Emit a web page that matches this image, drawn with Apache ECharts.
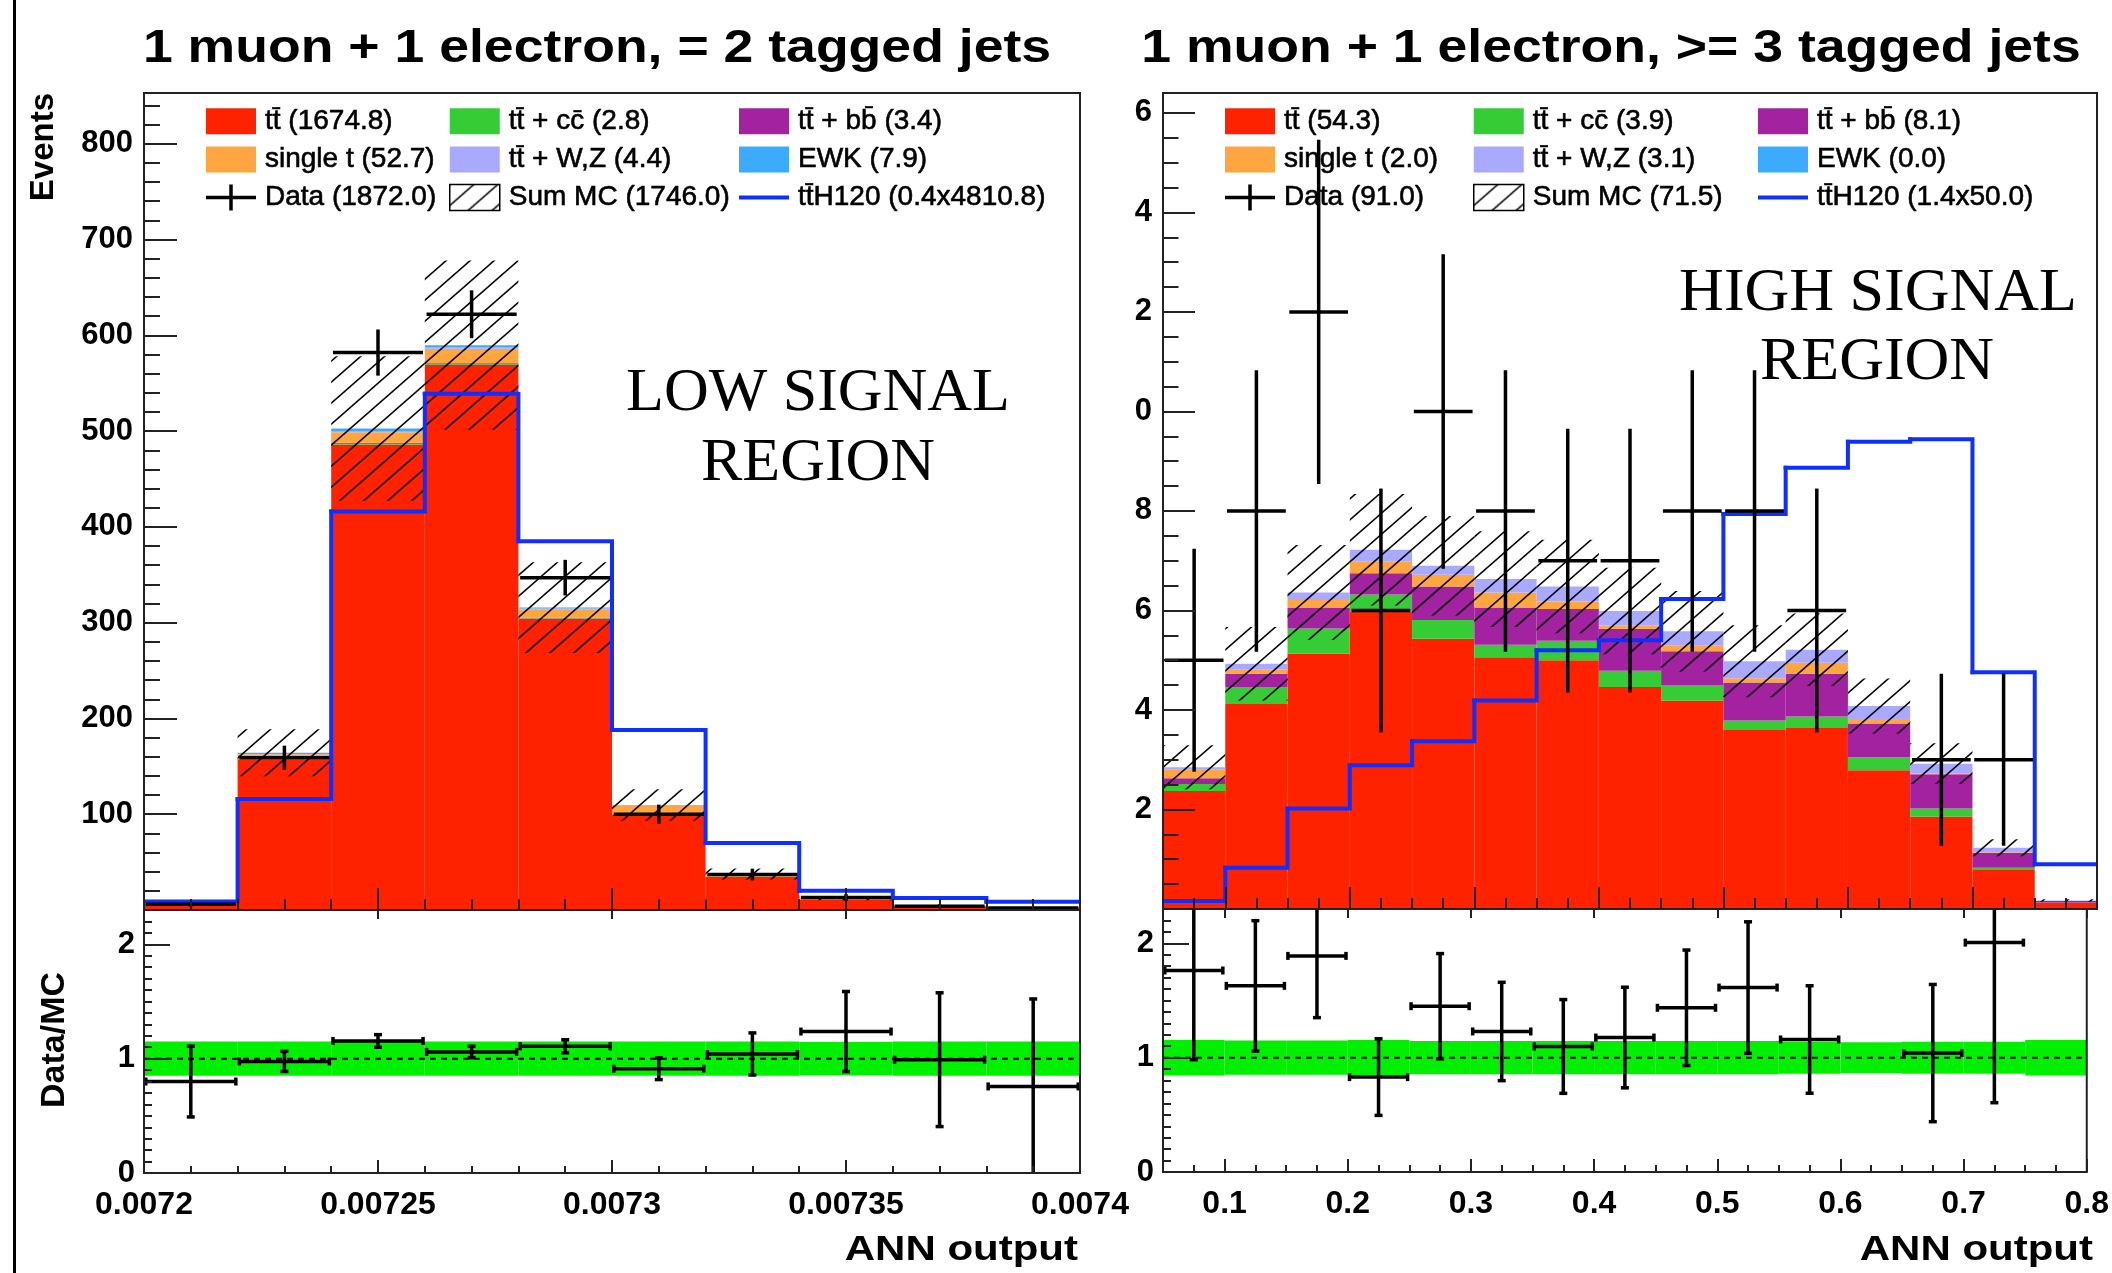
<!DOCTYPE html>
<html>
<head>
<meta charset="utf-8">
<script src="https://cdn.jsdelivr.net/npm/echarts@6/dist/echarts.min.js"></script>
<style>
html, body { margin: 0; padding: 0; background: #fff; }
#chart { width: 2112px; height: 1273px; }
</style>
</head>
<body>
<div id="chart"></div>
<script>
var FONT = '"Liberation Sans", Arial, Helvetica, sans-serif';
var SERIF = '"Liberation Serif", "Times New Roman", serif';

// stack order, bottom first
var compNames = ['tt\u0304', 'tt\u0304 + cc\u0304', 'tt\u0304 + bb\u0304', 'single t', 'tt\u0304 + W,Z', 'EWK'];
var compColors = ['#ff2200', '#35cc35', '#a3229f', '#ffa640', '#a9a9ff', '#3caaff'];
var signalColor = '#0f2fff';

// ---- left panel: = 2 tagged jets ----
var L_edges = [0.0072, 0.00722, 0.00724, 0.00726, 0.00728, 0.0073, 0.00732, 0.00734, 0.00736, 0.00738, 0.0074];
var L_ttbar   = [7, 157, 486, 569, 304, 100, 34.5, 11, 4, 2.5];
var L_ttcc    = [0, 0.3, 0.8, 0.8, 0.5, 0.2, 0.1, 0.05, 0.05, 0];
var L_ttbb    = [0, 0.3, 1.0, 1.1, 0.6, 0.2, 0.1, 0.05, 0.05, 0];
var L_singlet = [0.3, 5, 11, 15, 9, 8.5, 2.5, 0.8, 0.3, 0.2];
var L_ttwz    = [0, 0.4, 1.3, 1.5, 0.7, 0.3, 0.1, 0.05, 0.05, 0];
var L_ewk     = [0.1, 1.2, 2.6, 2.2, 0.9, 0.5, 0.3, 0.1, 0, 0];
var L_data    = [6, 159, 582, 622, 347, 100, 37, 13, 4, 2];
var L_dataErr = [2.4, 12.6, 24.1, 25, 18.6, 10, 6.1, 3.6, 2, 1.4];
var L_signal  = [9, 116, 416, 539, 385, 188, 70, 20, 12.5, 8.5];
var L_relErr  = [0.15, 0.15, 0.15, 0.15, 0.15, 0.15, 0.15, 0.145, 0.15, 0.15];
var L_ratio    = [0.80, 0.976, 1.155, 1.059, 1.108, 0.912, 1.041, 1.237, 0.991, 0.757];
var L_ratioErr = [0.31, 0.088, 0.055, 0.05, 0.057, 0.095, 0.184, 0.35, 0.585, 0.765];
var L_yields = ['1674.8', '2.8', '3.4', '52.7', '4.4', '7.9'];
var L_dataYield = '1872.0', L_mcYield = '1746.0', L_sigYield = '0.4x4810.8';
var L_tickLabels = [0.0072, 0.00725, 0.0073, 0.00735, 0.0074];
var L_yTicks = [100, 200, 300, 400, 500, 600, 700, 800];

// ---- right panel: >= 3 tagged jets ----
var R_edges = [0.05, 0.1, 0.15, 0.2, 0.25, 0.3, 0.35, 0.4, 0.45, 0.5, 0.55, 0.6, 0.65, 0.7, 0.75, 0.8];
var R_ttbar   = [2.37, 4.12, 5.13, 5.98, 5.43, 5.06, 5.00, 4.46, 4.19, 3.60, 3.64, 2.79, 1.86, 0.80, 0.13];
var R_ttcc    = [0.14, 0.34, 0.51, 0.34, 0.38, 0.25, 0.39, 0.33, 0.30, 0.19, 0.23, 0.26, 0.16, 0.03, 0.0];
var R_ttbb    = [0.12, 0.27, 0.42, 0.43, 0.67, 0.75, 0.64, 0.84, 0.69, 0.76, 0.86, 0.68, 0.69, 0.30, 0.03];
var R_singlet = [0.17, 0.09, 0.15, 0.24, 0.24, 0.30, 0.15, 0.07, 0.11, 0.09, 0.22, 0.09, 0.02, 0.01, 0];
var R_ttwz    = [0.05, 0.11, 0.15, 0.23, 0.18, 0.27, 0.30, 0.29, 0.29, 0.34, 0.26, 0.26, 0.19, 0.09, 0.01];
var R_ewk     = [0, 0, 0, 0, 0, 0, 0, 0, 0, 0, 0, 0, 0, 0, 0];
var R_data    = [5, 8, 12, 6, 10, 8, 7, 7, 8, 8, 6, 0, 3, 3, 0];
var R_dataErr = [2.24, 2.83, 3.46, 2.45, 3.16, 2.83, 2.65, 2.65, 2.83, 2.83, 2.45, 0, 1.73, 1.73, 0];
var R_signal  = [0.16, 0.83, 2.02, 2.89, 3.37, 4.19, 5.20, 5.40, 6.23, 7.94, 8.87, 9.39, 9.44, 4.76, 0.90];
var R_relErr  = [0.155, 0.15, 0.15, 0.155, 0.145, 0.145, 0.145, 0.145, 0.145, 0.145, 0.14, 0.135, 0.14, 0.14, 0.155];
var R_ratio    = [1.762, 1.628, 1.89, 0.83, 1.45, 1.229, 1.098, 1.176, 1.436, 1.613, 1.159, null, 1.04, 2.006, null];
var R_ratioErr = [0.78, 0.57, 0.54, 0.335, 0.46, 0.43, 0.41, 0.44, 0.505, 0.575, 0.47, null, 0.6, 1.4, null];
var R_yields = ['54.3', '3.9', '8.1', '2.0', '3.1', '0.0'];
var R_dataYield = '91.0', R_mcYield = '71.5', R_sigYield = '1.4x50.0';
var R_tickLabels = [0.1, 0.2, 0.3, 0.4, 0.5, 0.6, 0.7, 0.8];
var R_yTicks = [2, 4, 6, 8, 10, 12, 14, 16];

var ratioTicks = [0, 1, 2];

// diagonal hatch used for the MC uncertainty
var hatch = (function () {
  var w = 24, h = 21;
  var c = document.createElement('canvas');
  c.width = w; c.height = h;
  var g = c.getContext('2d');
  g.strokeStyle = '#000';
  g.lineWidth = 1.6;
  [-w, 0, w].forEach(function (dx) {
    g.beginPath();
    g.moveTo(dx - w, 2 * h);
    g.lineTo(dx + 2 * w, -h);
    g.stroke();
  });
  return { image: c, repeat: 'repeat' };
})();

function steps(a, b, n) {
  var out = [];
  for (var i = 0; i <= n; i++) out.push(+(a + (b - a) * i / n).toPrecision(8));
  return out;
}

function renderRect(params, api) {
  var lo = api.value(2), hi = api.value(3);
  if (!(hi > lo)) return null;
  var p0 = api.coord([api.value(0), hi]);
  var p1 = api.coord([api.value(1), lo]);
  var r = echarts.graphic.clipRectByRect(
    { x: p0[0], y: p0[1], width: p1[0] - p0[0], height: p1[1] - p0[1] }, params.coordSys);
  return r ? { type: 'rect', shape: r, style: { fill: api.visual('color') } } : null;
}

function renderStep(params, api) {
  var a = api.coord([api.value(0), api.value(2)]);
  var b = api.coord([api.value(1), api.value(2)]);
  var c = api.coord([api.value(1), api.value(3)]);
  return {
    type: 'polyline',
    shape: { points: [a, b, c] },
    style: { stroke: signalColor, lineWidth: 4, fill: null, lineCap: 'square', lineJoin: 'miter' }
  };
}

function crossRenderer(cap, lw) {
  return function (params, api) {
    var y = api.value(2), e = api.value(3);
    if (!(y > 0)) return null;
    var cs = params.coordSys, top = cs.y, bot = cs.y + cs.height;
    var pa = api.coord([api.value(0), y]);
    var pb = api.coord([api.value(1), y]);
    var hi = api.coord([api.value(0), y + e])[1];
    var lo = api.coord([api.value(0), y - e])[1];
    var xm = (pa[0] + pb[0]) / 2, yc = pa[1];
    var st = { stroke: '#000', lineWidth: lw };
    var kids = [];
    function seg(x1, y1, x2, y2) {
      kids.push({ type: 'line', shape: { x1: x1, y1: y1, x2: x2, y2: y2 }, style: st });
    }
    seg(pa[0] + lw / 2, yc, pb[0] - lw / 2, yc);
    seg(xm, Math.max(hi, top), xm, Math.min(lo, bot));
    if (cap) {
      seg(pa[0] + lw / 2, yc - cap, pa[0] + lw / 2, yc + cap);
      seg(pb[0] - lw / 2, yc - cap, pb[0] - lw / 2, yc + cap);
      if (hi >= top) seg(xm - cap, hi, xm + cap, hi);
      if (lo <= bot) seg(xm - cap, lo, xm + cap, lo);
    }
    return { type: 'group', children: kids };
  };
}

function panelSeries(p) {
  var nb = p.edges.length - 1;
  var below = [], list = [];
  for (var b = 0; b < nb; b++) below.push(0);
  p.comps.forEach(function (vals, k) {
    var items = vals.map(function (v, b) {
      var it = [p.edges[b], p.edges[b + 1], below[b], below[b] + v];
      below[b] += v;
      return it;
    });
    list.push({
      type: 'custom', name: compNames[k] + ' (' + p.yields[k] + ')',
      xAxisIndex: p.xMain, yAxisIndex: p.yMain, z: 2, clip: true,
      itemStyle: { color: compColors[k] }, encode: { x: [0, 1], y: [2, 3] },
      data: items, renderItem: renderRect
    });
  });
  // MC uncertainty band (hatched)
  list.push({
    type: 'custom', name: 'Sum MC (' + p.mcYield + ')',
    xAxisIndex: p.xMain, yAxisIndex: p.yMain, z: 3, clip: true,
    itemStyle: { color: hatch }, encode: { x: [0, 1], y: [2, 3] },
    data: below.map(function (t, b) {
      return [p.edges[b], p.edges[b + 1], t * (1 - p.relErr[b]), t * (1 + p.relErr[b])];
    }),
    renderItem: renderRect
  });
  // signal
  list.push({
    type: 'custom', name: 'tt\u0304H120 (' + p.sigYield + ')',
    xAxisIndex: p.xMain, yAxisIndex: p.yMain, z: 4, clip: true,
    itemStyle: { color: signalColor }, encode: { x: [0, 1], y: [2, 3] },
    data: p.signal.map(function (v, b) {
      return [p.edges[b], p.edges[b + 1], v, b + 1 < nb ? p.signal[b + 1] : v];
    }),
    renderItem: renderStep
  });
  // data
  list.push({
    type: 'custom', name: 'Data (' + p.dataYield + ')',
    xAxisIndex: p.xMain, yAxisIndex: p.yMain, z: 5,
    itemStyle: { color: '#000' }, encode: { x: [0, 1], y: 2 },
    data: p.data.map(function (v, b) { return [p.edges[b], p.edges[b + 1], v, p.dataErr[b]]; }),
    renderItem: crossRenderer(0, 3.5)
  });
  // ratio band
  list.push({
    type: 'custom', xAxisIndex: p.xRatio, yAxisIndex: p.yRatio, z: 2, silent: true,
    itemStyle: { color: '#00f000' }, encode: { x: [0, 1], y: [2, 3] },
    data: p.relErr.map(function (r, b) { return [p.edges[b], p.edges[b + 1], 1 - r, 1 + r]; }),
    renderItem: renderRect
  });
  list.push({
    type: 'line', xAxisIndex: p.xRatio, yAxisIndex: p.yRatio, z: 3, silent: true,
    symbol: 'none', lineStyle: { color: '#000', width: 2, type: [6, 5] },
    data: [[p.edges[0], 1], [p.edges[nb], 1]]
  });
  list.push({
    type: 'custom', xAxisIndex: p.xRatio, yAxisIndex: p.yRatio, z: 5, silent: true,
    itemStyle: { color: '#000' }, encode: { x: [0, 1], y: 2 },
    data: p.ratio.map(function (v, b) { return [p.edges[b], p.edges[b + 1], v, p.ratioErr[b]]; }),
    renderItem: crossRenderer(4, 3.5)
  });
  return list;
}

var tickStyle = { color: '#222', width: 2 };
function xAx(grid, edges, ticks, len, labels, fmt, pos) {
  return {
    type: 'value', gridIndex: grid, min: edges[0], max: edges[edges.length - 1],
    position: pos || 'bottom', z: 10,
    axisLine: { show: false, onZero: false }, splitLine: { show: false },
    axisTick: { show: true, inside: true, length: len, customValues: ticks, lineStyle: tickStyle },
    axisLabel: labels ? {
      show: true, customValues: labels, margin: 16, formatter: fmt,
      fontFamily: FONT, fontWeight: 'bold', fontSize: 32, color: '#000'
    } : { show: false }
  };
}
function yAx(grid, max, ticks, len, labels, fmt, margin) {
  return {
    type: 'value', gridIndex: grid, min: 0, max: max, position: 'left', z: 10,
    axisLine: { show: false, onZero: false }, splitLine: { show: false },
    axisTick: { show: true, inside: true, length: len, customValues: ticks, lineStyle: tickStyle },
    axisLabel: labels ? {
      show: true, customValues: labels, margin: margin, formatter: fmt,
      fontFamily: FONT, fontWeight: 'bold', fontSize: 31, color: '#000'
    } : { show: false }
  };
}
function fmtNum(v) { return String(+Number(v).toPrecision(6)); }
function fmtLastDigit(v) { return String(Math.round(v) % 10); }

var L_minorX = steps(0.0072, 0.0074, 20);
var R_minorX = steps(0.05, 0.8, 30);
var L_minorY = steps(0, 840, 42);
var R_minorY = steps(0, 16, 32);
var ratioMinorY = steps(0, 2.3, 23);

var xAxes = [
  xAx(0, L_edges, L_tickLabels, 22, null),
  xAx(0, L_edges, L_minorX, 11, null),
  xAx(1, L_edges, L_tickLabels, 13, L_tickLabels, fmtNum),
  xAx(1, L_edges, L_minorX, 7, null),
  xAx(1, L_edges, L_tickLabels, 9, null, null, 'top'),
  xAx(2, R_edges, R_tickLabels, 22, null),
  xAx(2, R_edges, R_minorX, 11, null),
  xAx(3, R_edges, R_tickLabels, 13, R_tickLabels, fmtNum),
  xAx(3, R_edges, R_minorX, 7, null),
  xAx(3, R_edges, R_tickLabels, 9, null, null, 'top')
];
var yAxes = [
  yAx(0, 853, L_yTicks, 33, L_yTicks, fmtNum, 11),
  yAx(0, 853, L_minorY, 16, null),
  yAx(1, 2.3, ratioTicks, 26, ratioTicks, fmtNum, 9),
  yAx(1, 2.3, ratioMinorY, 8, null),
  yAx(2, 16.4, R_yTicks, 32, R_yTicks, fmtLastDigit, 11),
  yAx(2, 16.4, R_minorY, 15.5, null),
  yAx(3, 2.3, ratioTicks, 26, ratioTicks, fmtNum, 9),
  yAx(3, 2.3, ratioMinorY, 8, null)
];

var series = panelSeries({
  edges: L_edges, comps: [L_ttbar, L_ttcc, L_ttbb, L_singlet, L_ttwz, L_ewk],
  data: L_data, dataErr: L_dataErr, signal: L_signal, relErr: L_relErr,
  ratio: L_ratio, ratioErr: L_ratioErr, yields: L_yields,
  dataYield: L_dataYield, mcYield: L_mcYield, sigYield: L_sigYield,
  xMain: 0, yMain: 0, xRatio: 2, yRatio: 2
}).concat(panelSeries({
  edges: R_edges, comps: [R_ttbar, R_ttcc, R_ttbb, R_singlet, R_ttwz, R_ewk],
  data: R_data, dataErr: R_dataErr, signal: R_signal, relErr: R_relErr,
  ratio: R_ratio, ratioErr: R_ratioErr, yields: R_yields,
  dataYield: R_dataYield, mcYield: R_mcYield, sigYield: R_sigYield,
  xMain: 5, yMain: 4, xRatio: 7, yRatio: 6
}));

var crossIcon = 'path://M0 11.25h50v3.5H0z M23.25 0h3.5v26h-3.5z';
var lineIcon = 'path://M0 0h50v4H0z';
function legendCol(left, items) {
  return {
    left: left, top: 107, orient: 'vertical', padding: 0,
    itemWidth: 50, itemHeight: 26, itemGap: 9.5, selectedMode: false,
    textStyle: {
      fontFamily: FONT, fontSize: 28, color: '#000', lineHeight: 26, padding: [0, 0, 0, 4],
      textBorderColor: '#000', textBorderWidth: 0.6
    },
    data: items
  };
}
function panelLegends(lefts, yields, dataYield, mcYield, sigYield) {
  function n(k) { return compNames[k] + ' (' + yields[k] + ')'; }
  return [
    legendCol(lefts[0], [
      { name: n(0), icon: 'rect' }, { name: n(3), icon: 'rect' },
      { name: 'Data (' + dataYield + ')', icon: crossIcon }
    ]),
    legendCol(lefts[1], [
      { name: n(1), icon: 'rect' }, { name: n(4), icon: 'rect' },
      { name: 'Sum MC (' + mcYield + ')', icon: 'rect',
        itemStyle: { color: hatch, borderColor: '#000', borderWidth: 1.5 } }
    ]),
    legendCol(lefts[2], [
      { name: n(2), icon: 'rect' }, { name: n(5), icon: 'rect' },
      { name: 'tt\u0304H120 (' + sigYield + ')', icon: lineIcon }
    ])
  ];
}

function txt(x, y, s, size, opts) {
  opts = opts || {};
  return {
    type: 'text', x: x, y: y, rotation: opts.rotation || 0, scaleX: opts.scaleX || 1, z: 20,
    style: {
      text: s, fill: '#000', fontFamily: opts.family || FONT, fontSize: size,
      fontWeight: opts.weight || 'bold', align: opts.align || 'center', verticalAlign: 'middle'
    }
  };
}

var gridBase = { show: true, borderColor: '#222', borderWidth: 2, backgroundColor: 'transparent', z: 10 };
var option = {
  animation: false,
  backgroundColor: '#fff',
  grid: [
    Object.assign({ left: 144, top: 93, width: 936, height: 817 }, gridBase),
    Object.assign({ left: 144, top: 910, width: 936, height: 263 }, gridBase),
    Object.assign({ left: 1163, top: 93, width: 934, height: 816 }, gridBase),
    Object.assign({ left: 1163, top: 909, width: 934, height: 263 }, gridBase)
  ],
  xAxis: xAxes,
  yAxis: yAxes,
  legend: panelLegends([206, 449, 739], L_yields, L_dataYield, L_mcYield, L_sigYield)
    .concat(panelLegends([1225, 1473, 1758], R_yields, R_dataYield, R_mcYield, R_sigYield)),
  graphic: [
    { type: 'line', shape: { x1: 14.5, y1: 0, x2: 14.5, y2: 1273 }, style: { stroke: '#000', lineWidth: 3 } },
    txt(597, 49, '1 muon + 1 electron, = 2 tagged jets', 47, { scaleX: 1.14 }),
    txt(1611, 49, '1 muon + 1 electron, >= 3 tagged jets', 47, { scaleX: 1.14 }),
    txt(44, 93, 'Events', 33, { rotation: Math.PI / 2, align: 'right' }),
    txt(55, 1040, 'Data/MC', 34, { rotation: Math.PI / 2 }),
    txt(1078, 1250, 'ANN output', 35, { align: 'right', scaleX: 1.2 }),
    txt(2093, 1250, 'ANN output', 35, { align: 'right', scaleX: 1.2 }),
    txt(818, 394, 'LOW SIGNAL', 62, { family: SERIF, weight: 'normal' }),
    txt(818, 464, 'REGION', 62, { family: SERIF, weight: 'normal' }),
    txt(1878, 294, 'HIGH SIGNAL', 62, { family: SERIF, weight: 'normal' }),
    txt(1877, 363, 'REGION', 62, { family: SERIF, weight: 'normal' })
  ],
  series: series
};

var myChart = echarts.init(document.getElementById('chart'));
myChart.setOption(option);
</script>
</body>
</html>
